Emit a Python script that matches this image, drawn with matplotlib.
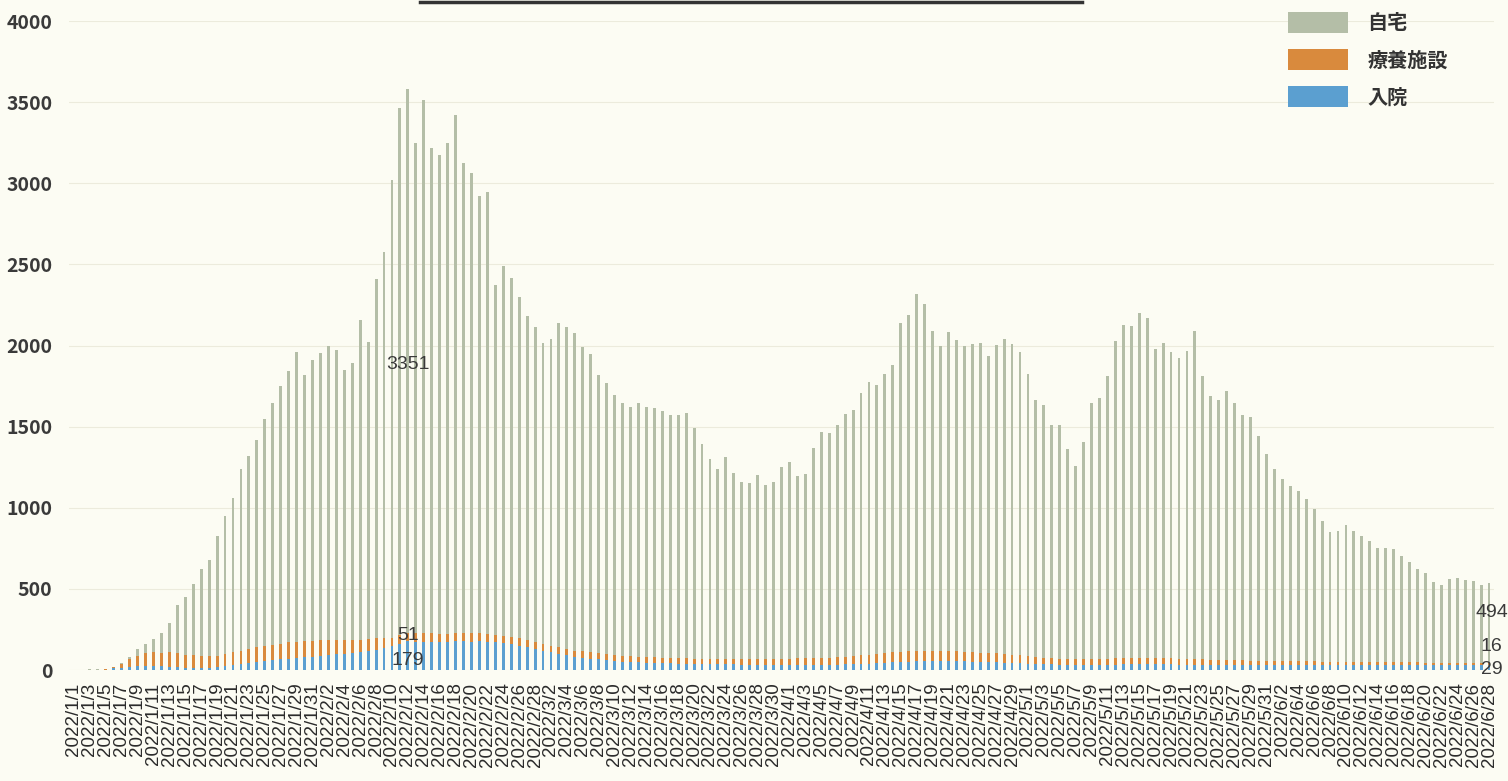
import pandas as pd
import matplotlib.pyplot as plt
from matplotlib.patches import Patch
from matplotlib.lines import Line2D

plt.rcParams['font.family'] = ['Noto Sans CJK JP', 'DejaVu Sans']

# Daily counts 2022/1/1 - 2022/6/28
dates = pd.date_range("2022-01-01", "2022-06-28", freq="D")
labels = [f"{d.year}/{d.month}/{d.day}" for d in dates]

# 入院 (hospital)
hosp = [0, 0, 1, 1, 2, 12, 15, 20, 22, 25,
        25, 22, 20, 18, 15, 14, 14, 15, 18, 25,
        30, 35, 42, 50, 55, 60, 65, 70, 72, 78,
        82, 88, 95, 100, 100, 105, 110, 115, 125, 135,
        145, 160, 179, 175, 170, 172, 170, 175, 178, 180,
        175, 178, 175, 170, 165, 160, 150, 140, 130, 120,
        110, 100, 90, 80, 75, 70, 65, 60, 55, 52,
        50, 48, 45, 45, 42, 42, 40, 40, 38, 38,
        36, 36, 35, 35, 34, 34, 33, 33, 32, 32,
        32, 32, 30, 30, 30, 32, 33, 35, 36, 38,
        40, 42, 45, 48, 50, 52, 55, 55, 55, 55,
        55, 54, 54, 52, 50, 50, 48, 46, 45, 42,
        40, 38, 36, 35, 34, 33, 32, 32, 32, 33,
        33, 34, 35, 36, 36, 36, 36, 35, 35, 34,
        34, 33, 33, 32, 32, 32, 31, 31, 30, 30,
        30, 30, 30, 30, 29, 29, 29, 28, 28, 28,
        28, 28, 28, 28, 28, 28, 28, 28, 28, 28,
        28, 28, 28, 28, 28, 28, 29, 29, 29]

# 療養施設 (care facility)
fac = [0, 0, 1, 1, 2, 5, 25, 45, 65, 80,
       85, 85, 88, 85, 80, 78, 75, 72, 70, 75,
       80, 85, 90, 92, 95, 95, 98, 100, 100, 100,
       98, 95, 90, 85, 82, 80, 78, 75, 70, 60,
       55, 55, 51, 55, 60, 55, 52, 50, 48, 50,
       52, 50, 48, 48, 45, 45, 45, 45, 45, 42,
       40, 40, 40, 40, 40, 40, 38, 36, 35, 35,
       35, 34, 34, 34, 33, 33, 33, 33, 32, 32,
       32, 32, 32, 32, 33, 33, 33, 34, 35, 36,
       38, 40, 42, 43, 44, 45, 46, 48, 50, 52,
       54, 56, 58, 60, 62, 64, 65, 65, 65, 64,
       63, 62, 60, 58, 56, 55, 54, 52, 50, 48,
       45, 42, 40, 38, 36, 35, 34, 34, 35, 36,
       37, 38, 40, 40, 40, 40, 38, 37, 36, 35,
       34, 33, 32, 31, 30, 30, 29, 28, 28, 27,
       27, 26, 26, 25, 25, 25, 24, 24, 23, 23,
       22, 22, 21, 21, 20, 20, 20, 19, 19, 19,
       18, 18, 18, 17, 17, 17, 17, 16, 16]

# 自宅 (home)
home = [1, 2, 4, 4, 5, 3, 5, 13, 44, 53,
        83, 123, 184, 297, 357, 436, 532, 591, 738, 852,
        951, 1117, 1188, 1276, 1398, 1489, 1588, 1670, 1785, 1641,
        1732, 1772, 1810, 1787, 1668, 1705, 1969, 1830, 2216, 2382,
        2823, 3247, 3351, 3018, 3286, 2993, 2955, 3021, 3193, 2893,
        2839, 2693, 2722, 2153, 2280, 2209, 2105, 1996, 1942, 1853,
        1889, 2000, 1982, 1955, 1878, 1838, 1717, 1676, 1604, 1558,
        1537, 1561, 1543, 1533, 1522, 1496, 1498, 1508, 1424, 1325,
        1235, 1169, 1246, 1149, 1091, 1087, 1136, 1071, 1093, 1185,
        1214, 1123, 1138, 1298, 1393, 1386, 1434, 1494, 1517, 1617,
        1683, 1658, 1721, 1772, 2027, 2069, 2199, 2133, 1970, 1876,
        1964, 1918, 1885, 1897, 1910, 1832, 1901, 1940, 1912, 1868,
        1737, 1585, 1556, 1438, 1441, 1292, 1191, 1340, 1576, 1605,
        1740, 1954, 2052, 2047, 2125, 2094, 1905, 1944, 1887, 1854,
        1896, 2022, 1745, 1627, 1601, 1655, 1583, 1514, 1504, 1386,
        1276, 1181, 1123, 1079, 1049, 1003, 940, 869, 800, 804,
        842, 805, 775, 744, 704, 704, 700, 654, 621, 577,
        552, 496, 480, 518, 522, 511, 500, 476, 494]

series_names = ["自宅", "療養施設", "入院"]
colors = {"自宅": "#b4bea7", "療養施設": "#d98a3d", "入院": "#5b9fd0"}

bg = "#fcfcf3"
fig = plt.figure(figsize=(15.08, 7.81), dpi=100, facecolor=bg)
ax = fig.add_axes([0.0459, 0.1421, 0.9447, 0.8310], facecolor=bg)

x = list(range(len(labels)))
bottom_home = [h + f for h, f in zip(hosp, fac)]
ax.bar(x, hosp, width=0.36, color=colors["入院"], zorder=2)
ax.bar(x, fac, width=0.36, bottom=hosp, color=colors["療養施設"], zorder=2)
ax.bar(x, home, width=0.36, bottom=bottom_home, color=colors["自宅"], zorder=2)

ax.set_xlim(-0.6, len(labels) - 0.4)
ax.set_ylim(0, 4000)
ax.set_yticks(range(0, 4001, 500))
ax.yaxis.grid(True, color="#ecebdc", linewidth=0.8, zorder=0)
ax.set_xticks(x[::2])
ax.set_xticklabels(labels[::2], rotation=90, fontsize=13.5,
                   family=["Liberation Sans", "DejaVu Sans"], color="#2b2b2b")
for t in ax.get_yticklabels():
    t.set_fontweight("bold")
    t.set_fontsize(14)
    t.set_color("#3a3a3a")
ax.tick_params(axis="both", length=0)
ax.tick_params(axis="y", pad=12)
ax.tick_params(axis="x", pad=9)
for s in ax.spines.values():
    s.set_visible(False)

# value labels
peak = 42
last = len(labels) - 1
lab_kw = dict(ha="center", va="center", fontsize=14, color="#3a3a3a",
              family=["Liberation Sans", "DejaVu Sans"])
ax.text(peak, 1880, str(home[peak]), **lab_kw)
ax.text(peak, 210, str(fac[peak]), **lab_kw)
ax.text(peak, 58, str(hosp[peak]), **lab_kw)
ax.text(last + 0.3, 352, str(home[last]), **lab_kw)
ax.text(last + 0.3, 148, str(fac[last]), **lab_kw)
ax.text(last + 0.3, 6, str(hosp[last]), **lab_kw)

handles = [Patch(facecolor=colors[n], edgecolor="none") for n in series_names]
leg = ax.legend(handles, series_names, loc="upper left",
                bbox_to_anchor=(1288 / 1508, 1 - 12 / 781),
                bbox_transform=fig.transFigure, frameon=False,
                borderpad=0, borderaxespad=0, fontsize=14.5,
                handlelength=3.0, handleheight=1.2,
                handletextpad=0.95, labelspacing=0.8)
for t in leg.get_texts():
    t.set_fontweight("bold")
    t.set_color("#333333")

# bottom edge of a title box cut off at the top of the page
fig.add_artist(Line2D([420 / 1508, 1082 / 1508], [1 - 1.5 / 781, 1 - 1.5 / 781],
                      transform=fig.transFigure, color="#333333", linewidth=2.5))

plt.savefig("out.png", dpi=100, facecolor=bg)
